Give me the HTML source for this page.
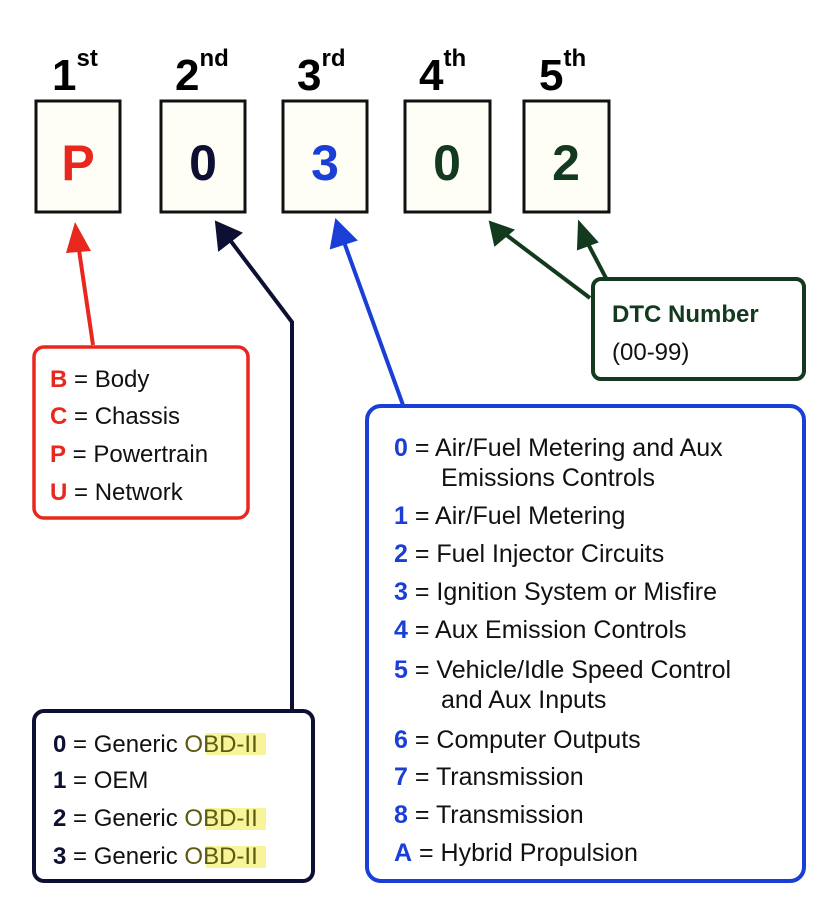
<!DOCTYPE html>
<html><head><meta charset="utf-8"><style>
html,body{margin:0;padding:0;background:#fff;}
svg{display:block;font-family:"Liberation Sans",Arial,sans-serif;}
</style></head><body>
<svg width="837" height="900" viewBox="0 0 837 900" xmlns="http://www.w3.org/2000/svg">
<defs>
<marker id="ar" markerWidth="10" markerHeight="10" refX="8" refY="5" orient="auto" markerUnits="userSpaceOnUse" viewBox="0 0 10 10"><path d="M0,0 L10,5 L0,10 z" fill="context-stroke"/></marker>
</defs>
<!-- headers -->
<g font-weight="bold" fill="#000">
<text x="52" y="90" font-size="44">1<tspan font-size="24" dy="-24">st</tspan></text>
<text x="175" y="90" font-size="44">2<tspan font-size="24" dy="-24">nd</tspan></text>
<text x="297" y="90" font-size="44">3<tspan font-size="24" dy="-24">rd</tspan></text>
<text x="419" y="90" font-size="44">4<tspan font-size="24" dy="-24">th</tspan></text>
<text x="539" y="90" font-size="44">5<tspan font-size="24" dy="-24">th</tspan></text>
</g>
<!-- code boxes -->
<g fill="#fffef6" stroke="#111" stroke-width="3">
<rect x="36" y="101" width="84" height="111"/>
<rect x="161" y="101" width="84" height="111"/>
<rect x="283" y="101" width="84" height="111"/>
<rect x="405" y="101" width="85" height="111"/>
<rect x="524" y="101" width="85" height="111"/>
</g>
<g font-weight="bold" font-size="50" text-anchor="middle">
<text x="78" y="180" fill="#e8281e">P</text>
<text x="203" y="180" fill="#0d1033">0</text>
<text x="325" y="180" fill="#1a3fd6">3</text>
<text x="447" y="180" fill="#13391e">0</text>
<text x="566" y="180" fill="#13391e">2</text>
</g>
<!-- arrows -->
<g stroke-width="4" fill="none">
<line x1="93" y1="345" x2="79" y2="250" stroke="#e8281e"/>
<path d="M66,253 L75,222 L91,251 z" fill="#e8281e" stroke="none"/>
<polyline points="292,711 292,322 230,240" stroke="#0d1033"/>
<path d="M219,250 L216,222 L241,233 z" fill="#0d1033" stroke="#0d1033" stroke-width="2"/>
<line x1="403" y1="405" x2="344" y2="242" stroke="#1a3fd6"/>
<path d="M331,248 L336,220 L356,240 z" fill="#1a3fd6" stroke="#1a3fd6" stroke-width="2"/>
<line x1="590" y1="298" x2="505" y2="234" stroke="#13391e"/>
<path d="M495,245 L490,222 L513,230 z" fill="#13391e" stroke="#13391e" stroke-width="2"/>
<line x1="607" y1="280" x2="586" y2="240" stroke="#13391e"/>
<path d="M578,249 L579,222 L597,242 z" fill="#13391e" stroke="#13391e" stroke-width="2"/>
</g>
<!-- red box -->
<rect x="34" y="347" width="214" height="171" rx="10" fill="#fff" stroke="#e8281e" stroke-width="3.5"/>
<g font-size="24" fill="#111">
<text x="50" y="387"><tspan fill="#e8281e" font-weight="bold">B</tspan> = Body</text>
<text x="50" y="424"><tspan fill="#e8281e" font-weight="bold">C</tspan> = Chassis</text>
<text x="50" y="462"><tspan fill="#e8281e" font-weight="bold">P</tspan> = Powertrain</text>
<text x="50" y="500"><tspan fill="#e8281e" font-weight="bold">U</tspan> = Network</text>
</g>
<!-- dark box -->
<rect x="34" y="711" width="279" height="170" rx="10" fill="#fff" stroke="#0d1033" stroke-width="4"/>
<g fill="#f8f49a">
<rect x="206" y="733" width="60" height="22"/>
<rect x="206" y="808" width="60" height="22"/>
<rect x="206" y="846" width="60" height="22"/>
</g>
<g font-size="24" fill="#111">
<text x="53" y="752"><tspan fill="#0d1033" font-weight="bold">0</tspan> = Generic <tspan fill="#5a5a10">OBD-II</tspan></text>
<text x="53" y="788"><tspan fill="#0d1033" font-weight="bold">1</tspan> = OEM</text>
<text x="53" y="826"><tspan fill="#0d1033" font-weight="bold">2</tspan> = Generic <tspan fill="#5a5a10">OBD-II</tspan></text>
<text x="53" y="864"><tspan fill="#0d1033" font-weight="bold">3</tspan> = Generic <tspan fill="#5a5a10">OBD-II</tspan></text>
</g>
<!-- green box -->
<rect x="593" y="279" width="211" height="100" rx="8" fill="#fff" stroke="#13391e" stroke-width="4"/>
<text x="612" y="322" font-size="24" font-weight="bold" fill="#13391e">DTC Number</text>
<text x="612" y="360" font-size="24" fill="#111">(00-99)</text>
<!-- blue box -->
<rect x="367" y="406" width="437" height="475" rx="14" fill="#fff" stroke="#1a3fd6" stroke-width="4"/>
<g font-size="25" fill="#111">
<text x="394" y="456"><tspan fill="#1a3fd6" font-weight="bold">0</tspan> = Air/Fuel Metering and Aux</text>
<text x="441" y="486">Emissions Controls</text>
<text x="394" y="524"><tspan fill="#1a3fd6" font-weight="bold">1</tspan> = Air/Fuel Metering</text>
<text x="394" y="562"><tspan fill="#1a3fd6" font-weight="bold">2</tspan> = Fuel Injector Circuits</text>
<text x="394" y="600"><tspan fill="#1a3fd6" font-weight="bold">3</tspan> = Ignition System or Misfire</text>
<text x="394" y="638"><tspan fill="#1a3fd6" font-weight="bold">4</tspan> = Aux Emission Controls</text>
<text x="394" y="678"><tspan fill="#1a3fd6" font-weight="bold">5</tspan> = Vehicle/Idle Speed Control</text>
<text x="441" y="708">and Aux Inputs</text>
<text x="394" y="748"><tspan fill="#1a3fd6" font-weight="bold">6</tspan> = Computer Outputs</text>
<text x="394" y="785"><tspan fill="#1a3fd6" font-weight="bold">7</tspan> = Transmission</text>
<text x="394" y="823"><tspan fill="#1a3fd6" font-weight="bold">8</tspan> = Transmission</text>
<text x="394" y="861"><tspan fill="#1a3fd6" font-weight="bold">A</tspan> = Hybrid Propulsion</text>
</g>
</svg>
</body></html>
